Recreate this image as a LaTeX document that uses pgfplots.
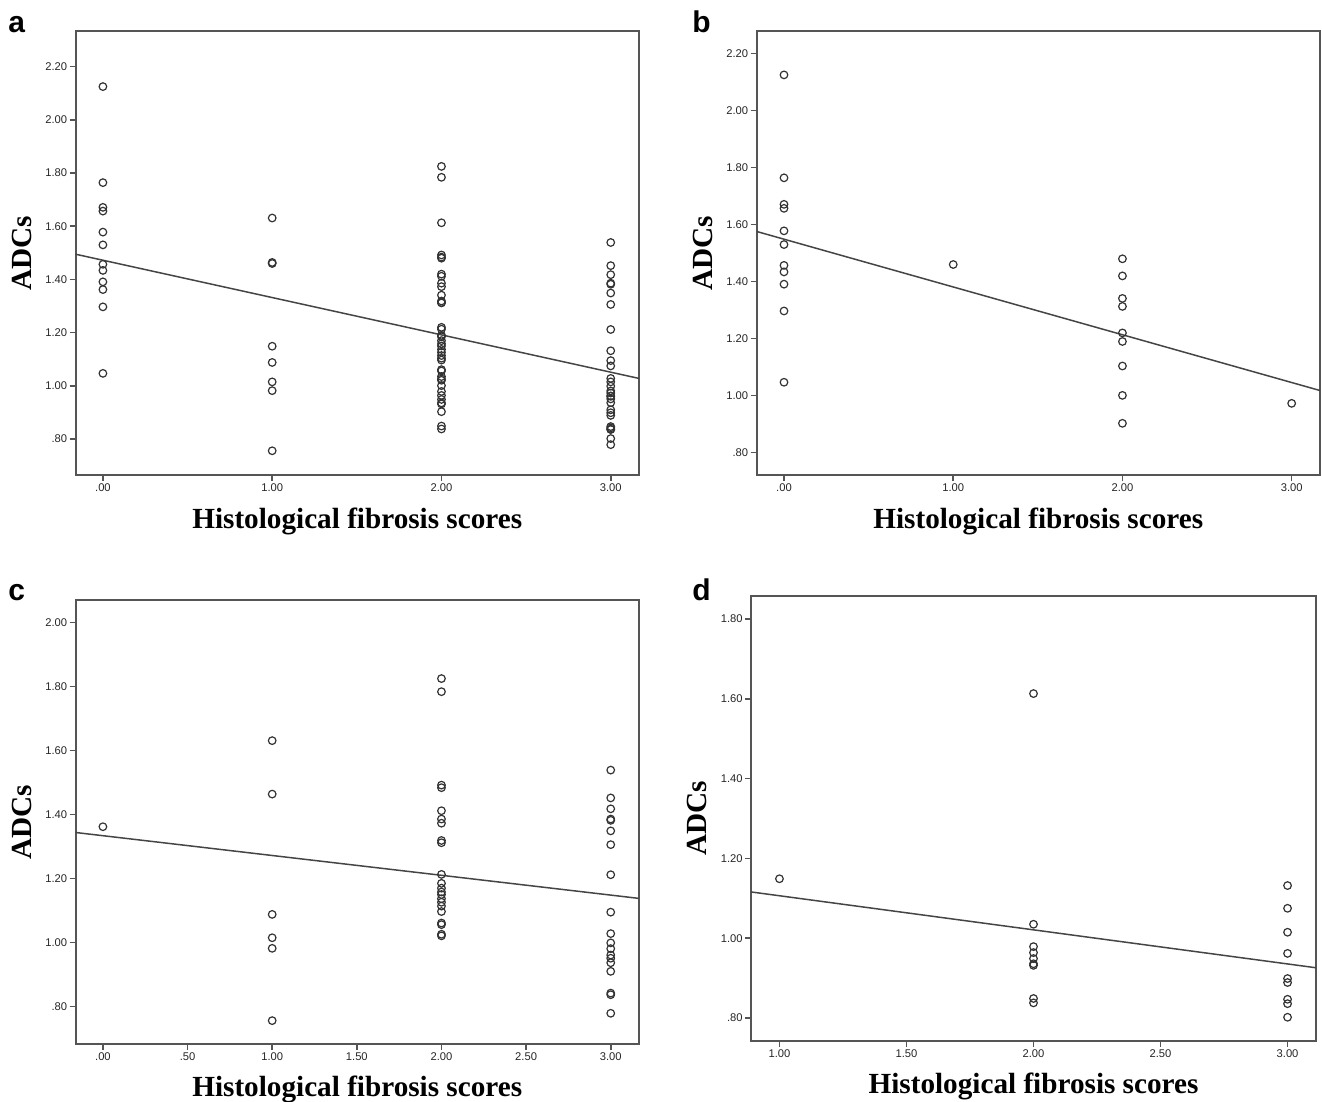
\documentclass[border=0pt]{standalone}
\usepackage{fontspec}
\setmainfont{Liberation Serif}
\setsansfont{Liberation Sans}
\usepackage{pgfplots}
\usepackage{pgfplotstable}
\pgfplotsset{compat=1.18}

% panel b data
\pgfplotstableread{
x y
0 2.125
0 1.764
0 1.671
0 1.657
0 1.578
0 1.530
0 1.457
0 1.434
0 1.391
0 1.297
0 1.047
1 1.460
2 1.480
2 1.420
2 1.341
2 1.313
2 1.220
2 1.190
2 1.104
2 1.001
2 0.903
3 0.973
}\datab

% panel c data
\pgfplotstableread{
x y
0 1.362
1 1.631
1 1.464
1 1.088
1 1.015
1 0.982
1 0.756
2 1.825
2 1.784
2 1.492
2 1.484
2 1.412
2 1.386
2 1.373
2 1.319
2 1.312
2 1.213
2 1.185
2 1.170
2 1.158
2 1.150
2 1.137
2 1.126
2 1.114
2 1.097
2 1.061
2 1.056
2 1.026
2 1.021
3 1.539
3 1.452
3 1.418
3 1.386
3 1.382
3 1.349
3 1.306
3 1.212
3 1.095
3 1.028
3 0.999
3 0.981
3 0.961
3 0.951
3 0.937
3 0.910
3 0.842
3 0.837
3 0.779
}\datac

% panel d data
\pgfplotstableread{
x y
1 1.149
2 1.613
2 1.035
2 0.979
2 0.964
2 0.949
2 0.936
2 0.932
2 0.849
2 0.838
3 1.132
3 1.075
3 1.015
3 0.962
3 0.899
3 0.889
3 0.847
3 0.836
3 0.802
}\datad

\definecolor{boxgray}{HTML}{555555}
\definecolor{markgray}{HTML}{333333}
\definecolor{linegray}{HTML}{454545}

\pgfplotsset{
  panel/.style={
    scale only axis, width=281.75pt, height=222pt,
    anchor=south west,
    axis line style={draw=boxgray, line width=1pt},
    tick align=outside, major tick length=3pt,
    xtick pos=left, ytick pos=left,
    major tick style={draw=boxgray, line width=0.8pt},
    tick label style={font=\sffamily\fontsize{5.6}{6.5}\selectfont, text=black!85, inner sep=1pt},
    xlabel={Histological fibrosis scores},
    ylabel={ADCs},
    label style={font=\bfseries\fontsize{14.6}{16}\selectfont},
    xlabel style={at={(axis description cs:0.5,-0.1194)}, anchor=base},
    ylabel style={at={(axis description cs:-0.0781,0.5)}, anchor=base},
  },
  pts/.style={only marks, mark=o, mark size=1.9pt, mark options={draw=markgray, line width=0.6pt}},
  fit/.style={no marks, draw=linegray, line width=0.75pt},
}

\begin{document}
\begin{tikzpicture}
\useasboundingbox (0,0) rectangle (661pt,551pt);

% ---------- a ----------
\begin{axis}[panel, at={(37.75pt,313.5pt)},
  xmin=-0.162, xmax=3.167, ymin=0.665, ymax=2.334,
  xtick={0,1,2,3}, xticklabels={.00,1.00,2.00,3.00},
  ytick={0.8,1.0,1.2,1.4,1.6,1.8,2.0,2.2},
  yticklabels={.80,1.00,1.20,1.40,1.60,1.80,2.00,2.20}]
\addplot[pts] table {\datab};
\addplot[pts] table {\datac};
\addplot[pts] table {\datad};
\addplot[fit] coordinates {(-0.162,1.495) (3.167,1.028)};
\end{axis}

% ---------- b ----------
\begin{axis}[panel, at={(378.25pt,313.25pt)}, height=222.25pt,
  xmin=-0.1625, xmax=3.1675, ymin=0.720, ymax=2.279,
  xtick={0,1,2,3}, xticklabels={.00,1.00,2.00,3.00},
  ytick={0.8,1.0,1.2,1.4,1.6,1.8,2.0,2.2},
  yticklabels={.80,1.00,1.20,1.40,1.60,1.80,2.00,2.20}]
\addplot[pts] table {\datab};
\addplot[fit] coordinates {(-0.1625,1.576) (3.1675,1.018)};
\end{axis}

% ---------- c ----------
\begin{axis}[panel, at={(37.75pt,29pt)}, height=221.75pt,
  xmin=-0.162, xmax=3.167, ymin=0.683, ymax=2.069,
  xtick={0,0.5,1,1.5,2,2.5,3}, xticklabels={.00,.50,1.00,1.50,2.00,2.50,3.00},
  ytick={0.8,1.0,1.2,1.4,1.6,1.8,2.0},
  yticklabels={.80,1.00,1.20,1.40,1.60,1.80,2.00}]
\addplot[pts] table {\datac};
\addplot[fit] coordinates {(-0.162,1.344) (3.167,1.138)};
\end{axis}

% ---------- d ----------
\begin{axis}[panel, at={(375.5pt,30.6pt)}, width=282.5pt, height=222.5pt,
  xmin=0.888, xmax=3.112, ymin=0.743, ymax=1.858,
  xtick={1,1.5,2,2.5,3}, xticklabels={1.00,1.50,2.00,2.50,3.00},
  ytick={0.8,1.0,1.2,1.4,1.6,1.8},
  yticklabels={.80,1.00,1.20,1.40,1.60,1.80}]
\addplot[pts] table {\datad};
\addplot[fit] coordinates {(0.888,1.116) (3.112,0.926)};
\end{axis}

% panel letters
\begin{scope}[every node/.style={anchor=base west, inner sep=0pt, font=\sffamily\bfseries\fontsize{15}{18}\selectfont}]
\node at (4pt,534.5pt) {a};
\node at (346pt,534.5pt) {b};
\node at (4pt,250.5pt) {c};
\node at (346pt,250.5pt) {d};
\end{scope}
\end{tikzpicture}
\end{document}
